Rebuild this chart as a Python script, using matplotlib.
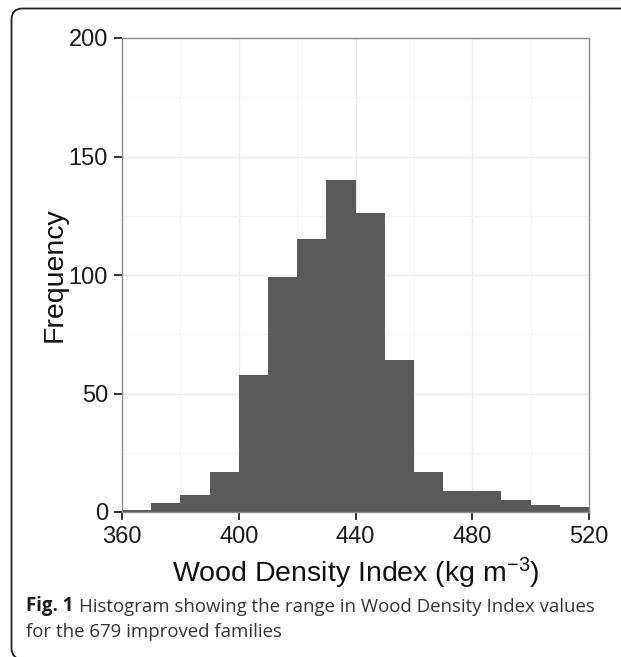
import numpy as np
import matplotlib.pyplot as plt
from matplotlib.patches import FancyBboxPatch

# histogram counts, bin width 10 kg m^-3
bin_edges = [360, 370, 380, 390, 400, 410, 420, 430, 440, 450, 460,
             470, 480, 490, 500, 510, 520]
counts = [1, 4, 7, 17, 58, 99, 115, 140, 126, 64, 17, 9, 9, 5, 3, 2]

x_major = [360, 400, 440, 480, 520]
x_minor = [380, 420, 460, 500]
y_major = [0, 50, 100, 150, 200]
y_minor = [25, 75, 125, 175]

plt.rcParams['font.family'] = ['Liberation Sans', 'DejaVu Sans']
plt.rcParams['mathtext.default'] = 'regular'

W, H = 621, 657
fig = plt.figure(figsize=(W / 100, H / 100), dpi=100)
ax = fig.add_axes([122 / W, 1 - 512 / H, (589 - 122) / W, (512 - 38) / H])

lefts = np.array(bin_edges[:-1])
widths = np.diff(bin_edges)
ax.bar(lefts, counts, width=widths, align='edge', color='#595959',
       edgecolor='none', zorder=2)

ax.set_xlim(360, 520)
ax.set_ylim(0, 200)
ax.set_xticks(x_major)
ax.set_xticks(x_minor, minor=True)
ax.set_yticks(y_major)
ax.set_yticks(y_minor, minor=True)
ax.grid(True, which='major', color='#EBEBEB', lw=1.0, zorder=0)
ax.grid(True, which='minor', color='#F5F5F5', lw=0.8, zorder=0)
ax.tick_params(which='major', direction='out', length=6, width=1.3,
               color='#222222', labelsize=17, labelcolor='#1a1a1a', pad=4)
ax.tick_params(which='minor', length=0)
for s in ax.spines.values():
    s.set_color('#8c8c8c')
    s.set_linewidth(1.0)
    s.set_zorder(3)

ax.set_xlabel('Wood Density Index (kg m$^{\u22123}$)', fontsize=20.5,
              color='#111111', labelpad=6)
ax.set_ylabel('Frequency', fontsize=20.5, color='#111111', labelpad=1)

# caption: bold "Fig. 1" then the rest placed right after it
cap_font = ['Open Sans', 'DejaVu Sans']
cap_col = '#333333'
t_fig = fig.text(26 / W, 1 - 611 / H, 'Fig. 1', fontsize=13.4,
                 fontweight='bold', family=cap_font, color='#1a1a1a',
                 va='baseline')
fig.add_artist(plt.Annotation(
    'Histogram showing the range in Wood Density Index values',
    xy=(1, 0), xycoords=t_fig, xytext=(4, 0), textcoords='offset points',
    fontsize=13.4, family=cap_font, color=cap_col, va='bottom', ha='left',
    annotation_clip=False))
fig.text(26 / W, 1 - 637 / H, 'for the 679 improved families',
         fontsize=13.4, family=cap_font, color=cap_col, va='baseline')

# outer rounded frame (runs off the right and bottom edges)
frame = FancyBboxPatch((0.115, -0.02), 6.4, 6.505,
                       boxstyle='round,pad=0,rounding_size=0.11',
                       transform=fig.dpi_scale_trans, fill=False,
                       edgecolor='#222222', lw=1.3, clip_on=False)
fig.patches.append(frame)

fig.savefig('out.png', dpi=100)
